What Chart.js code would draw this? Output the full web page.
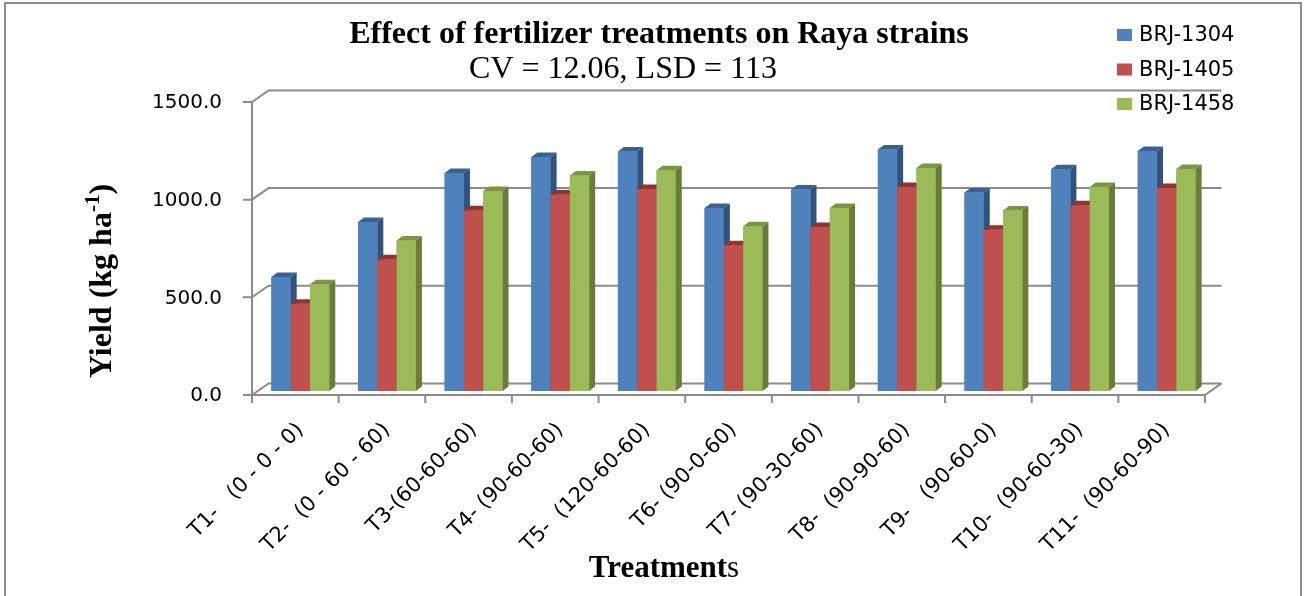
<!DOCTYPE html>
<html lang="en">

<head>
    <meta charset="UTF-8">
    <title>Effect of fertilizer treatments on Raya strains</title>
    <script src="https://cdn.jsdelivr.net/npm/chart.js"></script>
    <style>
        body {
            margin: 0;
            background-color: white;
        }

        canvas {
            display: block;
        }
    </style>
</head>

<body>
<canvas id="yieldChart" width="1304" height="596"></canvas>

<script>
    // data (kg/ha)
    const categories = ['T1-   (0 - 0 - 0)', 'T2-  (0 - 60 - 60)', 'T3-(60-60-60)', 'T4- (90-60-60)',
        'T5-  (120-60-60)', 'T6- (90-0-60)', 'T7- (90-30-60)', 'T8-  (90-90-60)', 'T9-   (90-60-0)',
        'T10-  (90-60-30)', 'T11-  (90-60-90)'];
    const seriesNames = ['BRJ-1304', 'BRJ-1405', 'BRJ-1458'];
    const brj1304 = [583, 865, 1116, 1198, 1226, 937, 1031, 1236, 1016, 1135, 1229];
    const brj1405 = [447, 674, 925, 1006, 1034, 746, 840, 1045, 826, 951, 1039];
    const brj1458 = [546, 771, 1024, 1103, 1130, 843, 937, 1142, 924, 1045, 1137];
    const yTicks = [0, 500, 1000, 1500];

    const titleText = 'Effect of fertilizer treatments on Raya strains';
    const subtitleText = 'CV = 12.06, LSD = 113';

    // fake 3D offsets
    const DX = 6, DY = -4.5;            // depth of a column
    const FRONT = {x: -5, y: 4};        // front edge of floor, relative to bars
    const BACK = {x: 11.5, y: -7.6};    // back wall, relative to bars

    const frame3d = {
        id: 'frame3d',
        beforeDraw(chart) {
            const ctx = chart.ctx;
            ctx.save();
            ctx.fillStyle = 'white';
            ctx.fillRect(0, 0, chart.width, chart.height);
            ctx.strokeStyle = '#8e8e8e';
            ctx.lineWidth = 2;
            ctx.strokeRect(5, 3, 1296, 610);
            ctx.restore();
        },
        beforeDatasetsDraw(chart) {
            const {ctx, chartArea: a, scales: {y}} = chart;
            const lf = a.left + FRONT.x, rf = a.right + FRONT.x;
            const ddx = BACK.x - FRONT.x, ddy = BACK.y - FRONT.y;
            ctx.save();
            ctx.strokeStyle = '#8c8c8c';
            ctx.lineWidth = 2;
            yTicks.forEach(v => {
                const yf = y.getPixelForValue(v) + FRONT.y;
                ctx.beginPath();
                ctx.moveTo(lf - 9, yf);
                ctx.lineTo(lf, yf);
                ctx.lineTo(lf + ddx, yf + ddy);
                ctx.lineTo(rf + ddx, yf + ddy);
                ctx.stroke();
            });
            const y0 = y.getPixelForValue(0) + FRONT.y;
            const yTop = y.getPixelForValue(yTicks[yTicks.length - 1]) + FRONT.y;
            ctx.beginPath();
            ctx.moveTo(lf, yTop);
            ctx.lineTo(lf, y0);
            ctx.lineTo(rf, y0);
            ctx.lineTo(rf + ddx, y0 + ddy);
            ctx.stroke();
            // category ticks
            const n = categories.length;
            ctx.beginPath();
            for (let k = 0; k <= n; k++) {
                const xk = lf + (rf - lf) * k / n;
                ctx.moveTo(xk, y0);
                ctx.lineTo(xk, y0 + 8);
            }
            ctx.stroke();
            ctx.restore();
        },
        afterDatasetsDraw(chart) {
            const ctx = chart.ctx;
            ctx.save();
            // redraw per category, left to right so the side faces get covered properly
            for (let i = 0; i < categories.length; i++) {
                chart.data.datasets.forEach((ds, d) => {
                    const el = chart.getDatasetMeta(d).data[i];
                    const l = el.x - el.width / 2, r = el.x + el.width / 2, t = el.y, b = el.base;
                    ctx.fillStyle = ds.backgroundColor;
                    ctx.fillRect(l, t, r - l, b - t);
                    // top
                    ctx.fillStyle = ds.topColor;
                    ctx.beginPath();
                    ctx.moveTo(l, t);
                    ctx.lineTo(r, t);
                    ctx.lineTo(r + DX, t + DY);
                    ctx.lineTo(l + DX, t + DY);
                    ctx.closePath();
                    ctx.fill();
                    // side
                    ctx.fillStyle = ds.sideColor;
                    ctx.beginPath();
                    ctx.moveTo(r, t);
                    ctx.lineTo(r + DX, t + DY);
                    ctx.lineTo(r + DX, b + DY);
                    ctx.lineTo(r, b);
                    ctx.closePath();
                    ctx.fill();
                });
            }
            ctx.restore();
        },
        afterDraw(chart) {
            const ctx = chart.ctx;
            ctx.save();
            ctx.fillStyle = '#000';
            ctx.textBaseline = 'alphabetic';

            // titles
            ctx.textAlign = 'center';
            ctx.font = 'bold 32px "Liberation Serif"';
            ctx.fillText(titleText, 659, 43);
            ctx.font = '32px "Liberation Serif"';
            ctx.fillText(subtitleText, 623, 78);

            // legend
            ctx.textAlign = 'left';
            ctx.font = '21px "DejaVu Sans"';
            chart.data.datasets.forEach((ds, d) => {
                const cy = 35 + d * 34.5;
                ctx.fillStyle = ds.backgroundColor;
                ctx.fillRect(1117, cy - 6, 15, 12);
                ctx.fillStyle = '#000';
                ctx.fillText(ds.label, 1139, cy + 6);
            });

            // y title with superscript
            ctx.save();
            ctx.translate(110.5, 281);
            ctx.rotate(-Math.PI / 2);
            const main = 'Yield (kg ha', sup = '-1', close = ')';
            ctx.font = 'bold 32px "Liberation Serif"';
            const w1 = ctx.measureText(main).width, w3 = ctx.measureText(close).width;
            ctx.font = 'bold 21px "Liberation Serif"';
            const w2 = ctx.measureText(sup).width;
            let xs = -(w1 + w2 + w3) / 2;
            ctx.font = 'bold 32px "Liberation Serif"';
            ctx.fillText(main, xs, 0);
            ctx.font = 'bold 21px "Liberation Serif"';
            ctx.fillText(sup, xs + w1, -12);
            ctx.font = 'bold 32px "Liberation Serif"';
            ctx.fillText(close, xs + w1 + w2, 0);
            ctx.restore();

            // x title: "Treatment" bold, trailing "s" plain
            ctx.font = 'bold 31px "Liberation Serif"';
            const tw1 = ctx.measureText('Treatment').width;
            ctx.font = '31px "Liberation Serif"';
            const tw2 = ctx.measureText('s').width;
            const tx = 664 - (tw1 + tw2) / 2;
            ctx.font = 'bold 31px "Liberation Serif"';
            ctx.fillText('Treatment', tx, 577);
            ctx.font = '31px "Liberation Serif"';
            ctx.fillText('s', tx + tw1, 577);
            ctx.restore();
        }
    };

    new Chart(document.getElementById('yieldChart'), {
        type: 'bar',
        data: {
            labels: categories,
            datasets: [
                {label: seriesNames[0], data: brj1304, backgroundColor: '#4f81bd', topColor: '#3a6192', sideColor: '#31527c'},
                {label: seriesNames[1], data: brj1405, backgroundColor: '#c0504d', topColor: '#93332f', sideColor: '#85302d'},
                {label: seriesNames[2], data: brj1458, backgroundColor: '#9bbb59', topColor: '#7a9641', sideColor: '#687d37'}
            ]
        },
        options: {
            responsive: false,
            animation: false,
            layout: {padding: {top: 98, right: 94, left: 0, bottom: 0}},
            datasets: {
                bar: {barPercentage: 1, categoryPercentage: 0.668}
            },
            plugins: {
                legend: {display: false},
                title: {display: false},
                tooltip: {enabled: false}
            },
            scales: {
                x: {
                    grid: {display: false, drawTicks: false},
                    border: {display: false},
                    ticks: {
                        color: '#000',
                        font: {family: 'DejaVu Sans', size: 21},
                        minRotation: 45,
                        maxRotation: 45,
                        padding: 27,
                        autoSkip: false
                    },
                    afterFit: s => { s.height = 205; }
                },
                y: {
                    min: 0,
                    max: 1500,
                    grid: {display: false, drawTicks: false},
                    border: {display: false},
                    ticks: {
                        stepSize: 500,
                        color: '#000',
                        font: {family: 'DejaVu Sans', size: 20},
                        padding: 35,
                        labelOffset: 5,
                        callback: v => v.toFixed(1)
                    },
                    afterFit: s => { s.width = 257; }
                }
            }
        },
        plugins: [frame3d]
    });
</script>
</body>

</html>
